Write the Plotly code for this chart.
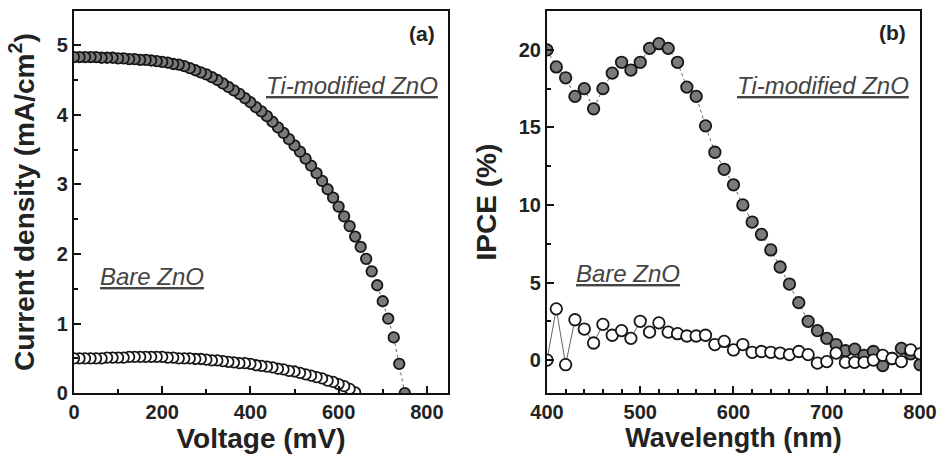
import plotly.graph_objects as go

# ---------------- Panel (a): J-V curves (sweep from Voc down to 0 V) ----------------
voltage_ti = [750, 737.5, 725, 712.5, 700, 687.5, 675, 662.5, 650, 637.5, 625, 612.5, 600,
              587.5, 575, 562.5, 550, 537.5, 525, 512.5, 500, 487.5, 475, 462.5, 450, 437.5,
              425, 412.5, 400, 387.5, 375, 362.5, 350, 337.5, 325, 312.5, 300, 287.5, 275,
              262.5, 250, 237.5, 225, 212.5, 200, 187.5, 175, 162.5, 150, 137.5, 125, 112.5,
              100, 87.5, 75, 62.5, 50, 37.5, 25, 12.5, 0]
current_ti = [0.00, 0.42, 0.80, 1.07, 1.32, 1.55, 1.75, 1.93, 2.10, 2.25, 2.40, 2.54, 2.68,
              2.81, 2.93, 3.05, 3.16, 3.27, 3.37, 3.47, 3.56, 3.65, 3.74, 3.82, 3.90, 3.98,
              4.05, 4.11, 4.18, 4.24, 4.30, 4.35, 4.40, 4.45, 4.50, 4.54, 4.58, 4.61, 4.64,
              4.67, 4.70, 4.72, 4.73, 4.75, 4.76, 4.77, 4.78, 4.79, 4.79, 4.80, 4.80, 4.81,
              4.81, 4.82, 4.82, 4.82, 4.83, 4.83, 4.83, 4.83, 4.83]

voltage_bare = [637.5, 625, 612.5, 600, 587.5, 575, 562.5, 550, 537.5, 525, 512.5, 500, 487.5,
                475, 462.5, 450, 437.5, 425, 412.5, 400, 387.5, 375, 362.5, 350, 337.5, 325,
                312.5, 300, 287.5, 275, 262.5, 250, 237.5, 225, 212.5, 200, 187.5, 175, 162.5,
                150, 137.5, 125, 112.5, 100, 87.5, 75, 62.5, 50, 37.5, 25, 12.5, 0]
current_bare = [0.01, 0.06, 0.10, 0.13, 0.16, 0.18, 0.21, 0.23, 0.25, 0.27, 0.29, 0.31, 0.32,
                0.34, 0.35, 0.37, 0.38, 0.39, 0.40, 0.42, 0.43, 0.43, 0.44, 0.45, 0.46, 0.47,
                0.47, 0.48, 0.49, 0.49, 0.50, 0.50, 0.50, 0.51, 0.51, 0.52, 0.52, 0.52, 0.52,
                0.52, 0.52, 0.52, 0.51, 0.51, 0.51, 0.51, 0.50, 0.50, 0.50, 0.50, 0.50, 0.50]

# ---------------- Panel (b): IPCE spectra ----------------
wavelength = [400, 410, 420, 430, 440, 450, 460, 470, 480, 490, 500, 510, 520, 530, 540, 550,
              560, 570, 580, 590, 600, 610, 620, 630, 640, 650, 660, 670, 680, 690, 700, 710,
              720, 730, 740, 750, 760, 770, 780, 790, 800]
ipce_ti = [20.0, 18.9, 18.2, 17.0, 17.5, 16.2, 17.5, 18.5, 19.2, 18.7, 19.2, 20.1, 20.4, 20.1,
           19.2, 17.6, 17.0, 15.1, 13.4, 12.3, 11.3, 10.0, 8.9, 8.1, 7.1, 6.0, 4.9, 3.7, 2.5,
           1.9, 1.4, 1.0, 0.6, 0.7, 0.3, 0.55, -0.35, 0.1, 0.75, 0.4, -0.3]
ipce_bare = [0.0, 3.3, -0.3, 2.6, 2.0, 1.1, 2.3, 1.6, 1.9, 1.4, 2.5, 1.8, 2.4, 1.8, 1.7, 1.55,
             1.55, 1.6, 1.0, 1.2, 0.65, 1.0, 0.5, 0.55, 0.5, 0.45, 0.35, 0.55, 0.35, -0.2, -0.1,
             0.45, -0.15, -0.15, -0.15, 0.0, 0.3, 0.1, -0.1, 0.65, 0.4]

FONT = "Arial, Liberation Sans, sans-serif"
FILL = "#7a7a7a"
EDGE = "#161616"
LINE = "#666666"

fig = go.Figure()

fig.add_trace(go.Scatter(x=voltage_bare, y=current_bare, mode="lines+markers",
                         line=dict(color=LINE, width=1),
                         marker=dict(size=10.5, color="white", line=dict(color=EDGE, width=1.8)),
                         xaxis="x", yaxis="y", showlegend=False))
fig.add_trace(go.Scatter(x=voltage_ti, y=current_ti, mode="lines+markers",
                         line=dict(color=LINE, width=1, dash="dot"),
                         marker=dict(size=10.5, color=FILL, line=dict(color=EDGE, width=1.8)),
                         xaxis="x", yaxis="y", showlegend=False))

fig.add_trace(go.Scatter(x=wavelength, y=ipce_ti, mode="lines+markers",
                         line=dict(color=LINE, width=1, dash="dot"),
                         marker=dict(size=11.5, color=FILL, line=dict(color=EDGE, width=1.8)),
                         xaxis="x2", yaxis="y2", showlegend=False))
fig.add_trace(go.Scatter(x=wavelength, y=ipce_bare, mode="lines+markers",
                         line=dict(color=LINE, width=1),
                         marker=dict(size=11.5, color="white", line=dict(color=EDGE, width=1.8)),
                         xaxis="x2", yaxis="y2", showlegend=False))

tickfont = dict(family=FONT, size=20, color="#222", weight="bold")
titlefont = dict(family=FONT, size=28, color="#222", weight="bold")
titlefont_b = dict(family=FONT, size=27, color="#222", weight="bold")

common = dict(showline=True, linecolor="#111", linewidth=2, mirror=True,
              ticks="inside", ticklen=7, tickwidth=2, tickcolor="#111",
              showgrid=False, zeroline=False, tickfont=tickfont, automargin=False)

fig.update_layout(
    width=939, height=463,
    margin=dict(l=0, r=0, t=0, b=0),
    paper_bgcolor="white", plot_bgcolor="white",
    xaxis=dict(domain=[0.0788, 0.4771], range=[0, 848], tickvals=[0, 200, 400, 600, 800],
               minor=dict(dtick=100, ticks="inside", ticklen=4, tickwidth=2, tickcolor="#111"),
               title=dict(text="Voltage (mV)", font=titlefont, standoff=6),
               anchor="y", **common),
    yaxis=dict(domain=[0.151, 0.976], range=[0, 5.49], tickvals=[0, 1, 2, 3, 4, 5],
               minor=dict(dtick=0.5, ticks="inside", ticklen=4, tickwidth=2, tickcolor="#111"),
               title=dict(text="Current density (mA/cm<sup>2</sup>)", font=titlefont, standoff=14),
               anchor="x", **common),
    xaxis2=dict(domain=[0.5825, 0.9798], range=[400, 800], tickvals=[400, 500, 600, 700, 800],
                minor=dict(dtick=20, ticks="inside", ticklen=4, tickwidth=2, tickcolor="#111"),
                title=dict(text="Wavelength (nm)", font=titlefont_b, standoff=6),
                anchor="y2", **common),
    yaxis2=dict(domain=[0.151, 0.976], range=[-2.13, 22.5], tickvals=[0, 5, 10, 15, 20],
                minor=dict(dtick=2.5, ticks="inside", ticklen=4, tickwidth=2, tickcolor="#111"),
                title=dict(text="IPCE (%)", font=titlefont, standoff=14),
                anchor="x2", **common),
)

lblfont = dict(family=FONT, size=21, color="#222", weight="bold")
notefont = dict(family=FONT, size=24, color="#444", style="italic", lineposition="under")

annotations = [
    dict(x=789, y=5.17, xref="x", yref="y", text="(a)", font=lblfont),
    dict(x=770, y=21.1, xref="x2", yref="y2", text="(b)", font=lblfont),
    dict(x=630, y=4.42, xref="x", yref="y", text="Ti-modified ZnO", font=notefont),
    dict(x=177, y=1.67, xref="x", yref="y", text="Bare ZnO", font=notefont),
    dict(x=696, y=17.7, xref="x2", yref="y2", text="Ti-modified ZnO", font=notefont),
    dict(x=487, y=5.6, xref="x2", yref="y2", text="Bare ZnO", font=notefont),
]
for a in annotations:
    a.update(showarrow=False, xanchor="center", yanchor="middle")
fig.update_layout(annotations=annotations)

fig.write_html("out.html")
